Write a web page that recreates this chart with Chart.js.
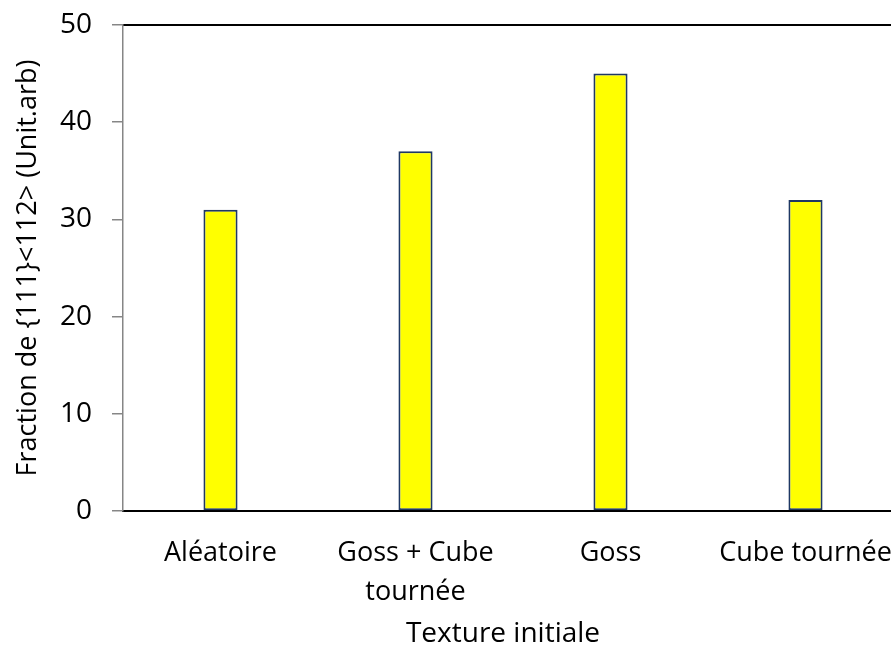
<!DOCTYPE html>
<html>
<head>
<meta charset="utf-8">
<script src="https://cdn.jsdelivr.net/npm/chart.js@4.4.1/dist/chart.umd.min.js"></script>
<style>
  html, body { margin: 0; padding: 0; background: #fff; overflow: hidden; }
  #wrap { width: 903px; height: 647px; }
</style>
</head>
<body>
<div id="wrap"><canvas id="textureChart" width="903" height="647"></canvas></div>
<script>
// values
var categories = ['Aléatoire', ['Goss + Cube', 'tournée'], 'Goss', 'Cube tournée'];
var fractions = [31, 37, 45, 32];
var yTicks = [0, 10, 20, 30, 40, 50];

var fontFam = '"Open Sans", "DejaVu Sans", sans-serif';

// x title is centred on the whole picture, not on the plot area
var xTitlePlugin = {
    id: 'xTitle',
    afterDraw: function(chart) {
        var ctx = chart.ctx;
        ctx.save();
        ctx.font = '28px ' + fontFam;
        ctx.fillStyle = '#000';
        ctx.textAlign = 'center';
        ctx.textBaseline = 'middle';
        ctx.fillText('Texture initiale', 503, 634);
        ctx.restore();
    }
};

const cfg = {
    type: 'bar',
    data: {
        labels: categories,
        datasets: [{
            label: 'Fraction',
            data: fractions,
            backgroundColor: '#FFFF00',
            borderColor: '#1F3864',
            borderWidth: 2,
            borderSkipped: false,
            categoryPercentage: 1,
            barPercentage: 0.175
        }]
    },
    options: {
        responsive: false,
        animation: false,
        layout: { padding: 0 },
        plugins: {
            legend: { display: false },
            tooltip: { enabled: false }
        },
        scales: {
            x: {
                position: 'bottom',
                grid: { drawOnChartArea: false, drawTicks: false },
                border: { display: true, color: '#000', width: 2 },
                ticks: {
                    color: '#000',
                    font: { family: fontFam, size: 27, lineHeight: 1.444 },
                    padding: 23,
                    maxRotation: 0,
                    autoSkip: false
                },
                afterFit: function(s) {
                    s.height = 136;
                    s.paddingLeft = 0;
                    s.paddingRight = 0;
                }
            },
            xTop: {
                type: 'category',
                position: 'top',
                grid: { drawOnChartArea: false, drawTicks: false },
                border: { display: true, color: '#000', width: 2 },
                ticks: { display: false },
                afterFit: function(s) { s.height = 25; }
            },
            y: {
                min: 0,
                max: 50,
                afterBuildTicks: function(s) {
                    s.ticks = yTicks.map(function(v) { return { value: v }; });
                },
                grid: { drawOnChartArea: false, tickLength: 11, color: '#868686', lineWidth: 1.5 },
                border: { display: true, color: '#868686', width: 1.5 },
                ticks: {
                    color: '#000',
                    font: { family: fontFam, size: 28 },
                    padding: 20
                },
                title: {
                    display: true,
                    text: 'Fraction de {111}<112> (Unit.arb)',
                    color: '#000',
                    font: { family: fontFam, size: 27 },
                    padding: { top: 12, bottom: 0 }
                },
                afterFit: function(s) {
                    s.width = 123;
                    s.paddingTop = 0;
                    s.paddingBottom = 0;
                }
            }
        }
    },
    plugins: [xTitlePlugin]
};

const textureChart = new Chart(document.getElementById('textureChart'), cfg);
</script>
</body>
</html>
